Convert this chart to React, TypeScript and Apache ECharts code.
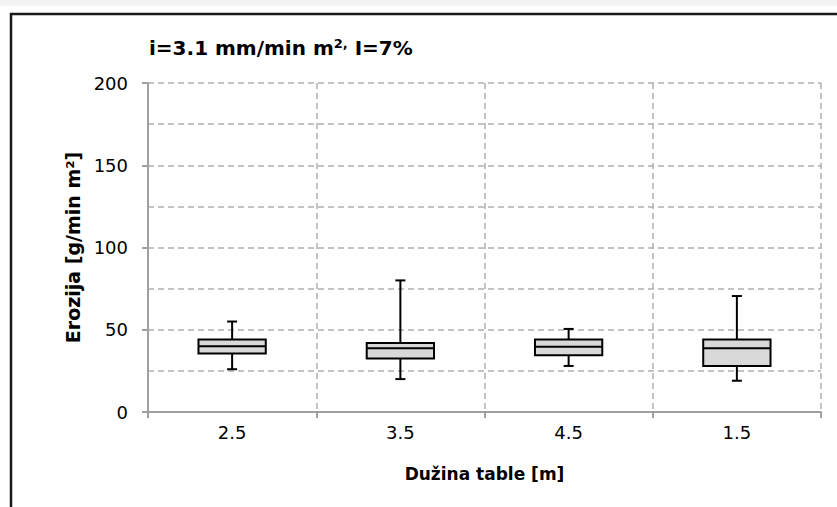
import React, { useEffect, useRef } from "react";
import * as echarts from "echarts";

const categories = ["2.5", "3.5", "4.5", "1.5"];
// [min, Q1, median, Q3, max]
const boxMin = [26, 20, 28, 19];
const boxQ1 = [35.5, 32.5, 34.5, 28];
const boxMedian = [40, 38.7, 39.7, 38.7];
const boxQ3 = [44, 42, 44, 44];
const boxMax = [55, 80, 50.5, 70.5];
const yTicks = [0, 50, 100, 150, 200];

export default function App() {
  const ref = useRef<HTMLDivElement>(null);
  useEffect(() => {
    if (!ref.current) return;
    const chart = echarts.init(ref.current, null, { renderer: "svg" });
    const data = categories.map((_, i) => [i, boxMin[i], boxQ1[i], boxMedian[i], boxQ3[i], boxMax[i]]);
    const font = "'DejaVu Sans', sans-serif";
    chart.setOption({
      animation: false,
      backgroundColor: "#ffffff",
      textStyle: { fontFamily: font },
      graphic: [
        { type: "rect", shape: { x: 0, y: 0, width: 837, height: 6 }, style: { fill: "#f3f3f3" }, silent: true },
        {
          type: "rect",
          shape: { x: 11, y: 14, width: 900, height: 600 },
          style: { fill: "none", stroke: "#1a1a1a", lineWidth: 2.5 },
          silent: true,
        },
        {
          type: "text",
          left: 149,
          top: 37,
          style: {
            text: "{a|i=3.1 mm/min m}{b|2,}{a| I=7%}",
            rich: {
              a: { fontSize: 20, fontWeight: "bold", fontFamily: font, fill: "#000" },
              b: { fontSize: 13, fontWeight: "bold", fontFamily: font, fill: "#000", padding: [0, 0, 8, 0] },
            },
          },
        },
      ],
      grid: { left: 148, right: 16, top: 83, bottom: 95 },
      xAxis: {
        type: "category",
        data: categories,
        boundaryGap: true,
        name: "Dužina table [m]",
        nameLocation: "middle",
        nameGap: 53,
        nameTextStyle: { fontSize: 17, fontWeight: "bold", color: "#000", fontFamily: font },
        axisLine: { show: true, lineStyle: { color: "#a0a0a0", width: 2 } },
        axisTick: { show: true, length: 6, lineStyle: { color: "#a0a0a0", width: 2 } },
        axisLabel: { fontSize: 18, color: "#000", margin: 11, fontFamily: font },
        splitLine: { show: true, lineStyle: { color: "#b0b0b0", width: 1.5, type: [6, 4] } },
      },
      yAxis: {
        type: "value",
        min: 0,
        max: 200,
        interval: 50,
        name: "Erozija [g/min m²]",
        nameLocation: "middle",
        nameRotate: 90,
        nameGap: 62,
        nameTextStyle: { fontSize: 19, fontWeight: "bold", color: "#000", fontFamily: font },
        axisLine: { show: true, lineStyle: { color: "#a0a0a0", width: 2 } },
        axisTick: { show: true, length: 6, lineStyle: { color: "#a0a0a0", width: 2 } },
        axisLabel: {
          fontSize: 18,
          color: "#000",
          margin: 20,
          fontFamily: font,
          formatter: (v: number) => (yTicks.includes(v) ? String(v) : ""),
        },
        splitLine: { show: true, lineStyle: { color: "#b0b0b0", width: 1.5, type: [6, 4] } },
        minorTick: { show: false, splitNumber: 2 },
        minorSplitLine: { show: true, lineStyle: { color: "#b0b0b0", width: 1.5, type: [6, 4] } },
      },
      series: [
        {
          type: "custom",
          data,
          encode: { x: 0, y: [1, 2, 3, 4, 5] },
          renderItem: (params: any, api: any) => {
            const idx = api.value(0);
            const pMin = api.coord([idx, api.value(1)]);
            const pQ1 = api.coord([idx, api.value(2)]);
            const pMed = api.coord([idx, api.value(3)]);
            const pQ3 = api.coord([idx, api.value(4)]);
            const pMax = api.coord([idx, api.value(5)]);
            const bw = api.size([1, 0])[0] * 0.4;
            const cx = pMed[0];
            const cap = 10;
            const ls = { stroke: "#000", lineWidth: 2 };
            return {
              type: "group",
              children: [
                { type: "line", shape: { x1: cx, y1: pMax[1], x2: cx, y2: pQ3[1] }, style: ls },
                { type: "line", shape: { x1: cx, y1: pQ1[1], x2: cx, y2: pMin[1] }, style: ls },
                { type: "line", shape: { x1: cx - cap / 2, y1: pMax[1], x2: cx + cap / 2, y2: pMax[1] }, style: ls },
                { type: "line", shape: { x1: cx - cap / 2, y1: pMin[1], x2: cx + cap / 2, y2: pMin[1] }, style: ls },
                {
                  type: "rect",
                  shape: { x: cx - bw / 2, y: pQ3[1], width: bw, height: pQ1[1] - pQ3[1] },
                  style: { fill: "#d9d9d9", stroke: "#000", lineWidth: 2 },
                },
                { type: "line", shape: { x1: cx - bw / 2, y1: pMed[1], x2: cx + bw / 2, y2: pMed[1] }, style: ls },
              ],
            };
          },
        },
      ],
    });
    return () => chart.dispose();
  }, []);
  return (
    <div
      ref={ref}
      style={{ position: "fixed", left: 0, top: 0, width: 837, height: 507 }}
    />
  );
}
